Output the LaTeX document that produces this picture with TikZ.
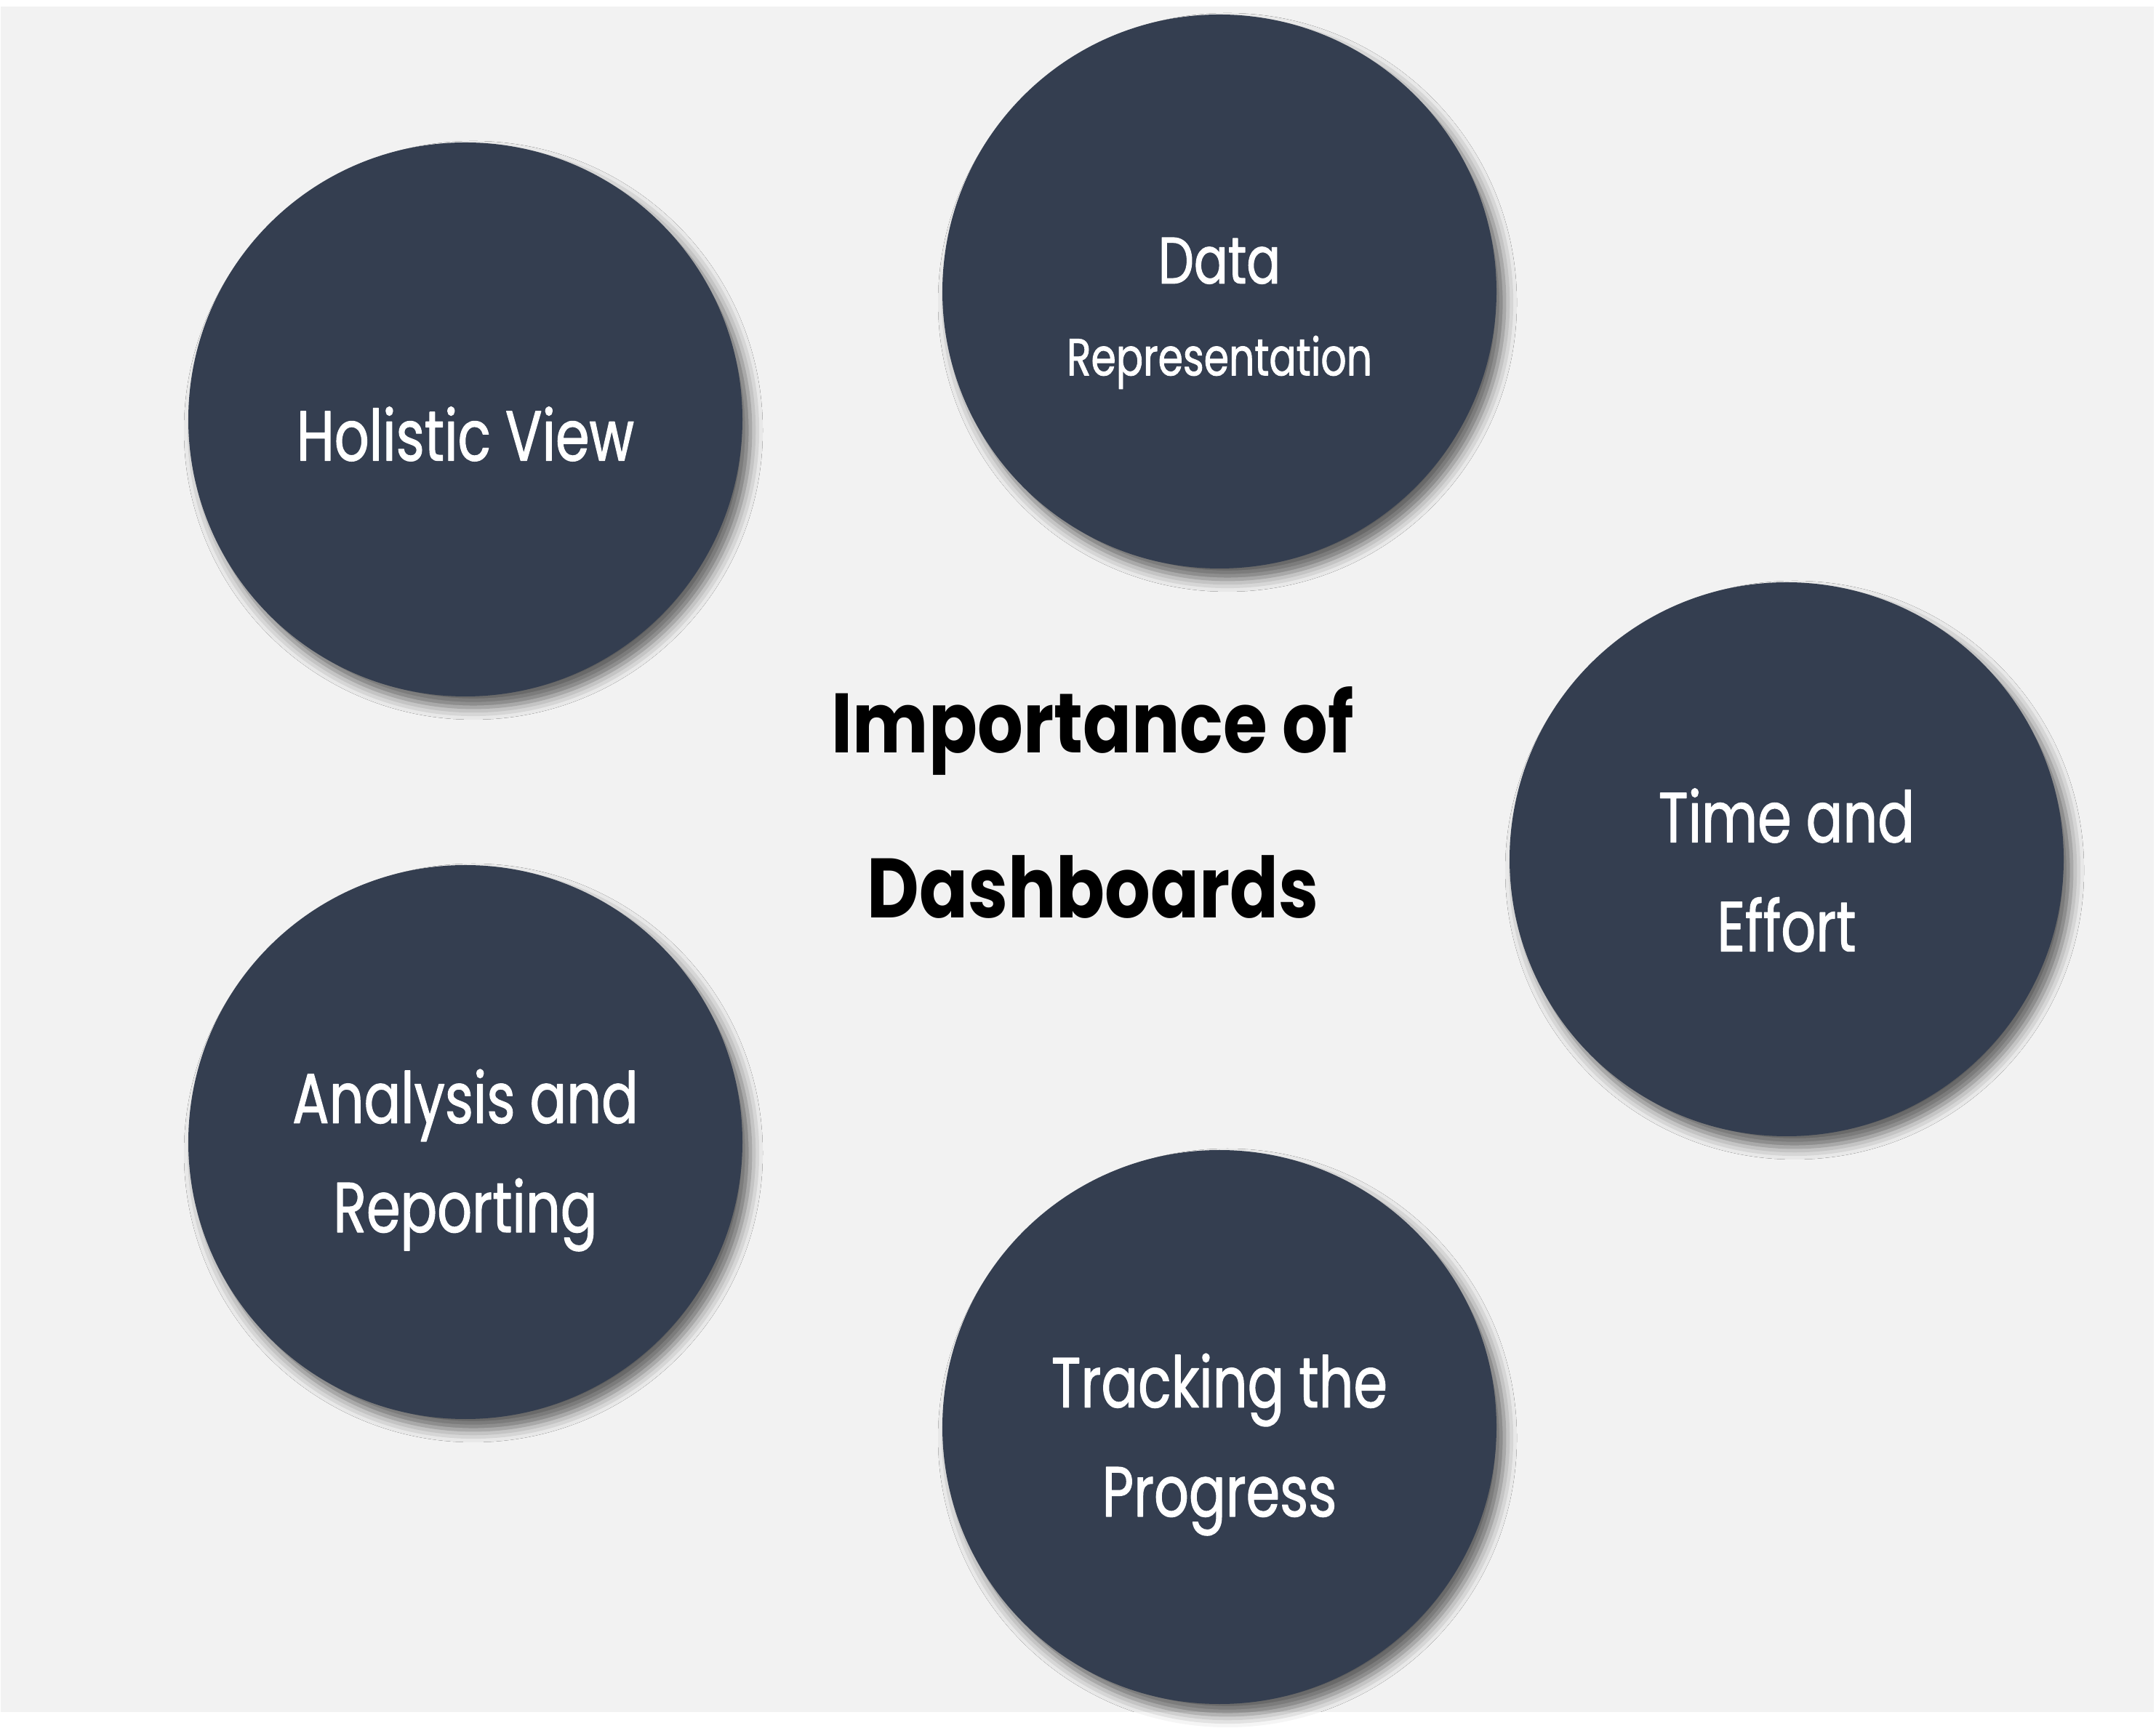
\documentclass[tikz,border=0pt]{standalone}
\usepackage{fontspec}
\setmainfont{Poppins}
\newfontfamily\bubblefont[FakeStretch=0.77, FakeBold=1.2]{Poppins}
\newfontfamily\headfont[FakeStretch=0.85]{Poppins}
\usetikzlibrary{shadows.blur}
\definecolor{slate}{HTML}{343E50}
\definecolor{canvas}{HTML}{F2F2F2}
\tikzset{
  bubble/.style={circle, fill=slate, minimum size=7.62cm, inner sep=0pt,
    blur shadow={shadow xshift=0.11cm, shadow yshift=-0.15cm,
      shadow blur radius=0.17cm, shadow opacity=60}},
  bubbletext/.style={text=white, align=center, inner sep=0pt,
    font=\bubblefont\fontsize{27.7}{42.7}\selectfont},
  headtext/.style={text=black, align=center, inner sep=0pt,
    font=\headfont\bfseries\fontsize{33}{64.6}\selectfont},
}

\begin{document}
\begin{tikzpicture}[line join=round, line cap=round]
  % 1. Nen xam
  \useasboundingbox (0,0) rectangle (29.65,23.87);
  \fill[canvas] (0.01,0.32) rectangle (29.62,23.78);

  % 2. Nam hinh tron
  \node[bubble] (holistic) at (6.40,18.10) {};
  \node[bubble] (data) at (16.77,19.86) {};
  \node[bubble] (time) at (24.57,12.05) {};
  \node[bubble] (analysis) at (6.40,8.16) {};
  \node[bubble] (tracking) at (16.77,4.24) {};

  % 3. Chu trong hinh tron
  \node[bubbletext] (holistictext) at ([yshift=-0.20cm]holistic.center) {Holistic View};
  \node[bubbletext, font=\bubblefont\fontsize{25.7}{36}\selectfont] (datatext)
    at ([yshift=-0.30cm]data.center)
    {Data\\{\fontsize{20.4}{36}\selectfont Representation}};
  \node[bubbletext] (timetext) at ([yshift=-0.15cm]time.center) {Time and\\Effort};
  \node[bubbletext] (analysistext) at ([yshift=-0.25cm]analysis.center) {Analysis and\\Reporting};
  \node[bubbletext] (trackingtext) at ([yshift=-0.24cm]tracking.center) {Tracking the\\Progress};

  % 4. Tieu de o giua
  \node[headtext] (title) at (15.03,12.83) {Importance of\\Dashboards};
\end{tikzpicture}
\end{document}
